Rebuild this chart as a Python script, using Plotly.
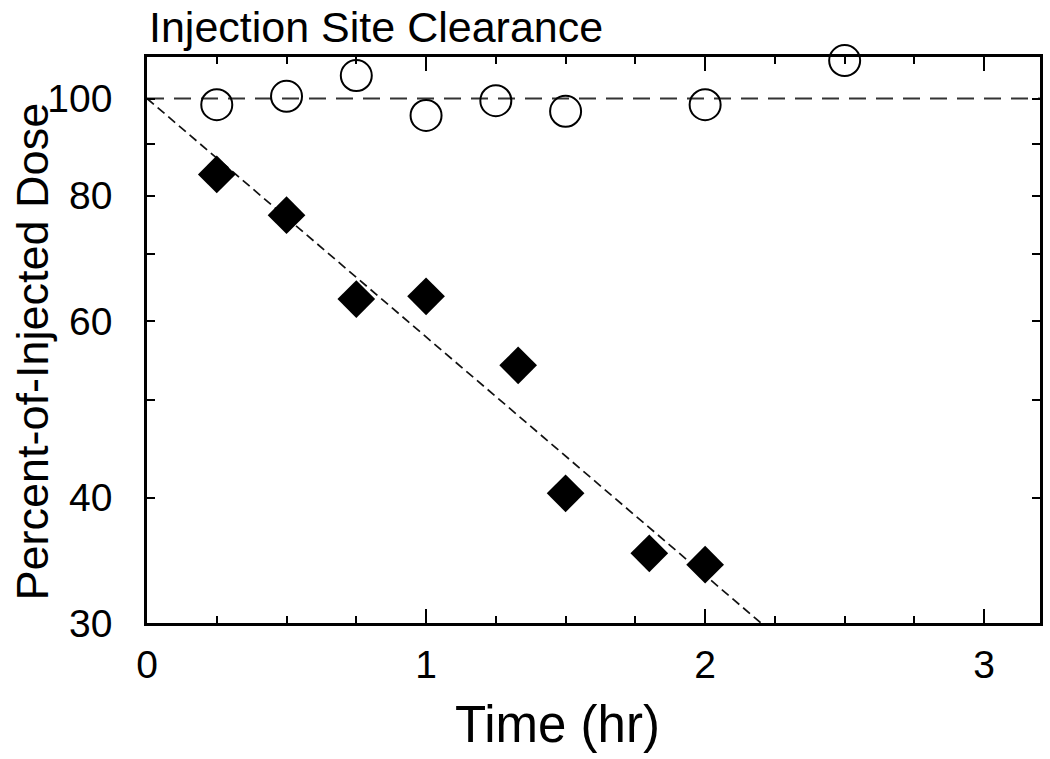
import math

import plotly.graph_objects as go


# control (open circles) and treated (filled diamonds), percent of injected dose
control_time = [0.25, 0.5, 0.75, 1.0, 1.25, 1.5, 2.0, 2.5]
control_pct = [98.6, 100.5, 105.4, 96.2, 99.5, 97.1, 98.6, 109.1]

treated_time = [0.25, 0.5, 0.75, 1.0, 1.33, 1.5, 1.8, 2.0]
treated_pct = [84.0, 76.5, 63.1, 63.5, 54.2, 40.4, 35.2, 34.3]

# reference line at 100 % and mono-exponential fit line
ref_time = [0, 3.2]
ref_pct = [100, 100]
fit_time = [0, 2.2]
fit_pct = [100, 30]

x_tickvals = [0, 1, 2, 3]
y_tickvals = [30, 40, 50, 60, 70, 80, 90, 100]
y_ticktext = ["30", "40", "", "60", "", "80", "", "100"]

FONT = "Liberation Sans, Arial, sans-serif"

fig = go.Figure()

fig.add_trace(go.Scatter(
    x=ref_time, y=ref_pct, mode="lines",
    line=dict(color="#333333", width=1.8, dash="17px,10px"),
    hoverinfo="skip", showlegend=False,
))
fig.add_trace(go.Scatter(
    x=fit_time, y=fit_pct, mode="lines",
    line=dict(color="#111111", width=1.7, dash="9px,5px"),
    hoverinfo="skip", showlegend=False,
))
fig.add_trace(go.Scatter(
    x=control_time, y=control_pct, mode="markers",
    marker=dict(symbol="circle-open", size=31, color="black", line=dict(width=2)),
    cliponaxis=False, showlegend=False,
))
fig.add_trace(go.Scatter(
    x=treated_time, y=treated_pct, mode="markers",
    marker=dict(symbol="diamond", size=29, color="black"),
    cliponaxis=False, showlegend=False,
))

fig.update_layout(
    width=1050,
    height=759,
    margin=dict(l=147, r=7, t=57, b=136),
    plot_bgcolor="white",
    paper_bgcolor="white",
    font=dict(family=FONT, color="black"),
    annotations=[
        dict(text="Injection Site Clearance", x=0, y=1.053, xref="paper", yref="paper",
             xanchor="left", yanchor="middle", showarrow=False, font=dict(size=43)),
        dict(text="Time (hr)", x=0.46, y=-0.18, xref="paper", yref="paper",
             xanchor="center", yanchor="middle", showarrow=False, font=dict(size=51)),
        dict(text="Percent-of-Injected Dose", x=-0.128, y=0.479, xref="paper", yref="paper",
             xanchor="center", yanchor="middle", textangle=-90, showarrow=False,
             font=dict(size=45)),
    ],
)

fig.update_xaxes(
    range=[0, 3.2],
    tickvals=x_tickvals,
    ticks="inside", ticklen=14, tickwidth=2, tickcolor="black",
    minor=dict(dtick=0.25, tick0=0, ticks="inside", ticklen=7, tickwidth=1.5, tickcolor="black"),
    showline=True, linewidth=2.5, linecolor="black", mirror="allticks",
    showgrid=False, zeroline=False,
    tickfont=dict(size=39),
    ticklabelstandoff=5,
)
fig.update_yaxes(
    type="log",
    range=[math.log10(30), math.log10(110)],
    tickvals=y_tickvals, ticktext=y_ticktext,
    ticks="inside", ticklen=8, tickwidth=2, tickcolor="black",
    showline=True, linewidth=2.5, linecolor="black", mirror="allticks",
    showgrid=False, zeroline=False,
    tickfont=dict(size=39),
    ticklabelstandoff=24,
)

# drop the browser's default 8px body margin so the figure fills the window
fig.write_html(
    "out.html",
    config={"displayModeBar": False},
    post_script="document.body.style.margin = '0px';",
)
